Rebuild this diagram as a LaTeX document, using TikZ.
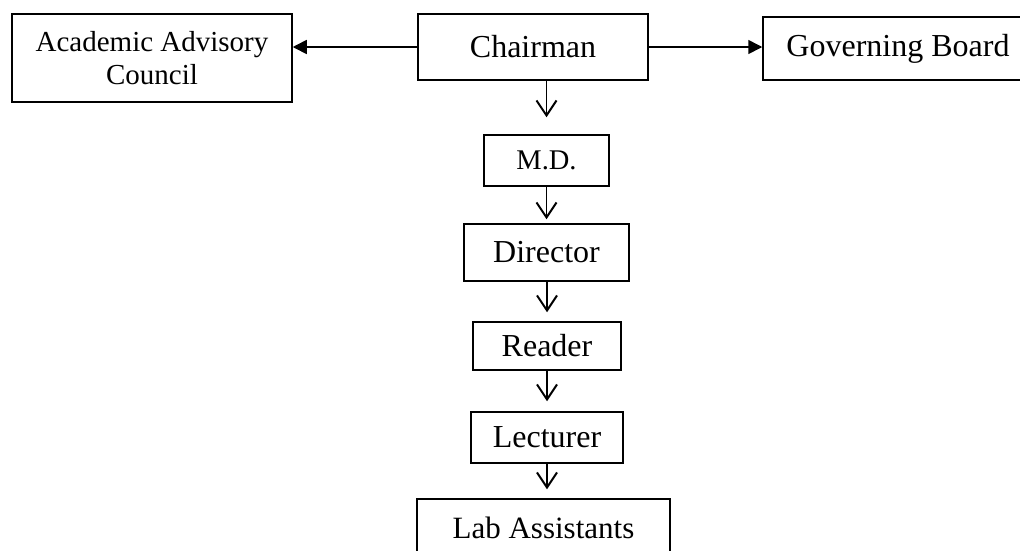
\documentclass[tikz,border=0pt]{standalone}
\usepackage{fontspec}
\setmainfont{Liberation Serif}
\usetikzlibrary{arrows.meta}
\begin{document}
\begin{tikzpicture}[x=1pt,y=1pt,
  box/.style={draw, line width=1.5pt, inner sep=0pt, font=\fontsize{32}{36}\selectfont},
  conn/.style={line width=1.6pt},
  fillhead/.style={conn, -{Triangle[length=14pt,width=14pt]}},
  vhead/.style={conn, -{Straight Barb[length=15pt,width=20pt,line width=2pt]}}]
\useasboundingbox (0,0) rectangle (1020,-550);
\node[box, minimum width=280pt, minimum height=88pt, align=center,
      font=\fontsize{29}{33}\selectfont] (aac) at (152,-58) {Academic Advisory\\Council};
\node[box, minimum width=230pt, minimum height=66pt] (chair) at (533,-47) {Chairman};
\node[box, minimum width=270pt, minimum height=63pt] (gov) at (898,-48.5) {Governing Board};
\node[box, minimum width=125pt, minimum height=51pt, font=\fontsize{28.5}{32}\selectfont] (md) at (546.5,-160.5) {M.D.};
\node[box, minimum width=165pt, minimum height=57pt] (dir) at (546.5,-252.5) {Director\hspace{16pt}};
\node[box, minimum width=148pt, minimum height=48pt] (reader) at (547,-346) {Reader};
\node[box, minimum width=152pt, minimum height=51pt] (lect) at (547,-437.5) {Lecturer};
\node[box, minimum width=253pt, minimum height=58pt, font=\fontsize{31}{35}\selectfont] (lab) at (543.5,-528) {Lab Assistants};
\draw[fillhead] (chair.west) -- (chair.west -| aac.east);
\draw[fillhead] (chair.east) -- (chair.east -| gov.west);
\draw[vhead, shorten >=17pt] (md.north |- chair.south) -- (md.north);
\draw[vhead, shorten >=4pt] (md.south) -- (md.south |- dir.north);
\draw[vhead, shorten >=9pt] (dir.south -| reader.north) -- (reader.north);
\draw[vhead, shorten >=10pt] (reader.south) -- (reader.south |- lect.north);
\draw[vhead, shorten >=9pt] (lect.south) -- (lect.south |- lab.north);
\end{tikzpicture}
\end{document}
